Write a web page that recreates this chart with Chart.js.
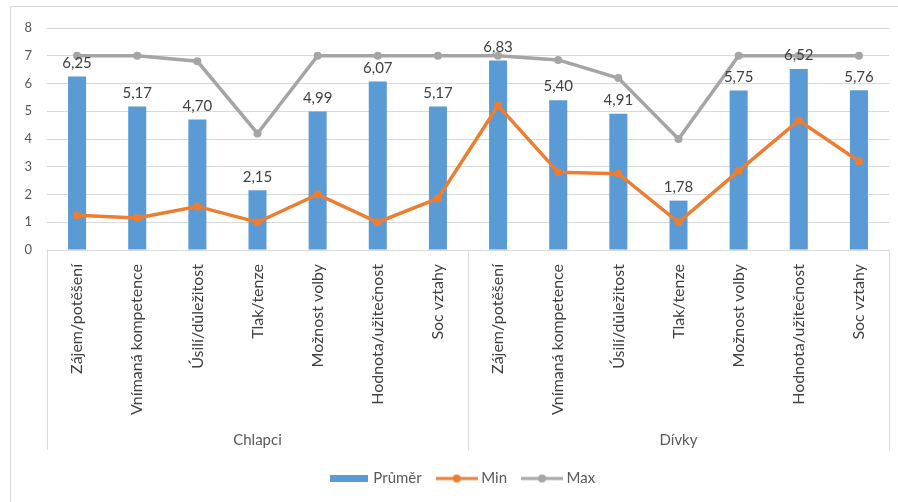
<!DOCTYPE html>
<html>
<head>
<meta charset="utf-8">
<script src="https://cdn.jsdelivr.net/npm/chart.js@4/dist/chart.umd.min.js"></script>
<style>
  html, body { margin: 0; padding: 0; background: #fff; }
  #wrap { width: 898px; height: 502px; position: relative; }
  canvas { display: block; }
</style>
</head>
<body>
<div id="wrap"><canvas id="c" width="898" height="502"></canvas></div>
<script>
// Motivation dimensions, shown once for boys and once for girls
const dimensions = ['Zájem/potěšení', 'Vnímaná kompetence', 'Úsilí/důležitost', 'Tlak/tenze',
                    'Možnost volby', 'Hodnota/užitečnost', 'Soc vztahy'];
const groups = ['Chlapci', 'Dívky'];
const categories = [...dimensions, ...dimensions];

const prumer    = [6.25, 5.17, 4.70, 2.15, 4.99, 6.07, 5.17, 6.83, 5.40, 4.91, 1.78, 5.75, 6.52, 5.76];
const minValues = [1.25, 1.15, 1.57, 1.00, 2.00, 1.00, 1.86, 5.20, 2.80, 2.75, 1.00, 2.85, 4.67, 3.20];
const maxValues = [7.00, 7.00, 6.80, 4.20, 7.00, 7.00, 7.00, 7.00, 6.85, 6.20, 4.00, 7.00, 7.00, 7.00];

const yMin = 0, yMax = 8, yStep = 1;

const BLUE = '#5B9BD5', ORANGE = '#ED7D31', GREY = '#A5A5A5';
const TEXT = '#595959', GRID = '#D9D9D9';
const FONT = 'Lato';

// Legend icons: a wide bar swatch and line-with-marker swatches
function barIcon(color) {
  const c = document.createElement('canvas');
  c.width = 38; c.height = 7;
  const g = c.getContext('2d');
  g.fillStyle = color; g.fillRect(0, 0, 38, 7);
  return c;
}
function lineIcon(color) {
  const c = document.createElement('canvas');
  c.width = 42; c.height = 10;
  const g = c.getContext('2d');
  g.strokeStyle = color; g.lineWidth = 3;
  g.beginPath(); g.moveTo(0, 5); g.lineTo(42, 5); g.stroke();
  g.fillStyle = color;
  g.beginPath(); g.arc(21, 5, 4, 0, Math.PI * 2); g.fill();
  return c;
}
const legendIcons = [barIcon(BLUE), lineIcon(ORANGE), lineIcon(GREY)];

const fmt = v => v.toFixed(2).replace('.', ',');

const decor = {
  id: 'decor',
  afterLayout(chart) {
    // legend sits a little right of the canvas centre and slightly lower
    chart.legend.left += 14;
    chart.legend.right += 14;
    chart.legend.top += 3;
    chart.legend.bottom += 3;
  },
  beforeDraw(chart) {
    const ctx = chart.ctx;
    ctx.save();
    ctx.fillStyle = '#fff';
    ctx.fillRect(0, 0, chart.width, chart.height);
    ctx.strokeStyle = GRID;
    ctx.lineWidth = 1;
    ctx.beginPath();
    ctx.moveTo(10.5, chart.height);
    ctx.lineTo(10.5, 6.5);
    ctx.lineTo(chart.width, 6.5);
    ctx.stroke();
    ctx.restore();
  },
  afterDatasetsDraw(chart) {
    const ctx = chart.ctx;
    const meta = chart.getDatasetMeta(0);
    ctx.save();
    ctx.font = '15px ' + FONT;
    ctx.fillStyle = '#404040';
    ctx.textAlign = 'center';
    ctx.textBaseline = 'bottom';
    meta.data.forEach((bar, i) => {
      ctx.fillText(fmt(prumer[i]), bar.x, bar.y - 6);
    });
    ctx.restore();
  },
  afterDraw(chart) {
    // group dividers of the two-level category axis
    const x = chart.scales.x, g = chart.scales.g;
    const xs = [x.left, x.getPixelForValue(dimensions.length - 0.5), x.right];
    const ctx = chart.ctx;
    ctx.save();
    ctx.strokeStyle = GRID;
    ctx.lineWidth = 1;
    xs.forEach(px => {
      const p = Math.round(px) + 0.5;
      ctx.beginPath();
      ctx.moveTo(p, chart.chartArea.bottom);
      ctx.lineTo(p, g.bottom);
      ctx.stroke();
    });
    ctx.restore();
  }
};

new Chart(document.getElementById('c'), {
  type: 'bar',
  data: {
    labels: categories,
    datasets: [
      { type: 'bar', label: 'Průměr', data: prumer, backgroundColor: BLUE,
        barPercentage: 0.3, categoryPercentage: 1, order: 3 },
      { type: 'line', label: 'Min', data: minValues, borderColor: ORANGE, backgroundColor: ORANGE,
        borderWidth: 3.5, pointRadius: 4, pointBorderWidth: 0, tension: 0, order: 2 },
      { type: 'line', label: 'Max', data: maxValues, borderColor: GREY, backgroundColor: GREY,
        borderWidth: 3.5, pointRadius: 4, pointBorderWidth: 0, tension: 0, order: 1 }
    ]
  },
  options: {
    responsive: false,
    animation: false,
    devicePixelRatio: 1,
    layout: { padding: { left: 10, right: 9, top: 28, bottom: 9 } },
    plugins: {
      tooltip: { enabled: false },
      legend: {
        position: 'bottom',
        labels: {
          usePointStyle: true,
          pointStyleWidth: 34,
          padding: 18,
          color: TEXT,
          font: { family: FONT, size: 15 },
          generateLabels: chart => chart.data.datasets.map((ds, i) => ({
            text: ds.label,
            pointStyle: legendIcons[i],
            fillStyle: ds.backgroundColor,
            strokeStyle: 'transparent',
            lineWidth: 0,
            hidden: false,
            datasetIndex: i,
            fontColor: TEXT
          }))
        }
      }
    },
    scales: {
      y: {
        min: yMin, max: yMax,
        ticks: { stepSize: yStep, color: TEXT, padding: 15, font: { family: FONT, size: 13 } },
        grid: { color: GRID, drawTicks: false },
        border: { display: false },
        afterFit: s => { s.width = 37; }
      },
      x: {
        type: 'category',
        labels: categories,
        position: 'bottom',
        ticks: { autoSkip: false, minRotation: 90, maxRotation: 90, padding: 14,
                 color: '#404040', font: { family: FONT, size: 16 } },
        grid: { display: false, drawTicks: false },
        border: { display: true, color: GRID },
        afterFit: s => { s.height = 168; }
      },
      g: {
        type: 'category',
        labels: groups,
        position: 'bottom',
        offset: true,
        ticks: { color: TEXT, padding: 13, font: { family: FONT, size: 15 } },
        grid: { display: false, drawTicks: false },
        border: { display: false },
        afterFit: s => { s.height = 32; }
      }
    }
  },
  plugins: [decor]
});
</script>
</body>
</html>
